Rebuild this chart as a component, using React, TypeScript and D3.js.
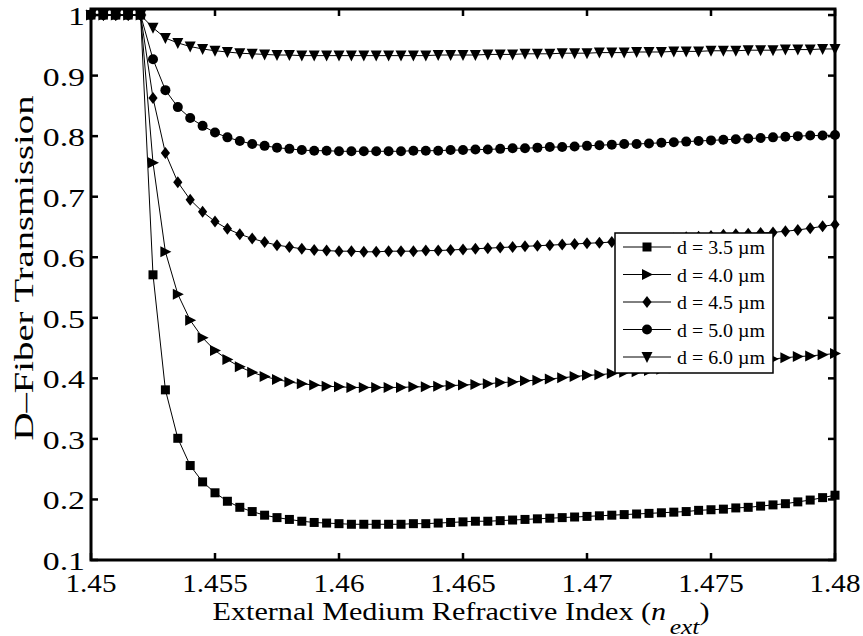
import React from "react";
import * as d3 from "d3";

const nExt = [
  1.45, 1.4505, 1.451, 1.4515, 1.452, 1.4525, 1.453, 1.4535, 1.454, 1.4545,
  1.455, 1.4555, 1.456, 1.4565, 1.457, 1.4575, 1.458, 1.4585, 1.459, 1.4595,
  1.46, 1.4605, 1.461, 1.4615, 1.462, 1.4625, 1.463, 1.4635, 1.464, 1.4645,
  1.465, 1.4655, 1.466, 1.4665, 1.467, 1.4675, 1.468, 1.4685, 1.469, 1.4695,
  1.47, 1.4705, 1.471, 1.4715, 1.472, 1.4725, 1.473, 1.4735, 1.474, 1.4745,
  1.475, 1.4755, 1.476, 1.4765, 1.477, 1.4775, 1.478, 1.4785, 1.479, 1.4795,
  1.48,
];

const d35 = [
  1, 1, 1, 1, 1, 0.571, 0.381, 0.301, 0.256, 0.229,
  0.211, 0.197, 0.187, 0.18, 0.174, 0.17, 0.167, 0.164, 0.162, 0.161,
  0.16, 0.159, 0.159, 0.159, 0.159, 0.159, 0.16, 0.16, 0.161, 0.162,
  0.163, 0.164, 0.164, 0.165, 0.166, 0.167, 0.168, 0.169, 0.17, 0.171,
  0.172, 0.173, 0.174, 0.175, 0.176, 0.177, 0.178, 0.179, 0.18, 0.182,
  0.183, 0.184, 0.186, 0.187, 0.189, 0.191, 0.193, 0.196, 0.199, 0.203,
  0.207,
];

const d40 = [
  1, 1, 1, 1, 1, 0.756, 0.609, 0.539, 0.496, 0.467,
  0.446, 0.431, 0.419, 0.41, 0.403, 0.398, 0.394, 0.391, 0.389, 0.387,
  0.386, 0.385, 0.385, 0.385, 0.385, 0.385, 0.386, 0.386, 0.387, 0.388,
  0.389, 0.39, 0.391, 0.393, 0.394, 0.396, 0.397, 0.399, 0.401, 0.403,
  0.405, 0.406, 0.408, 0.41, 0.411, 0.413, 0.415, 0.417, 0.419, 0.421,
  0.423, 0.424, 0.426, 0.428, 0.43, 0.432, 0.434, 0.436, 0.437, 0.439,
  0.441,
];

const d45 = [
  1, 1, 1, 1, 1, 0.863, 0.772, 0.724, 0.695, 0.675,
  0.659, 0.647, 0.638, 0.631, 0.625, 0.62, 0.617, 0.614, 0.612, 0.611,
  0.61, 0.61, 0.609, 0.609, 0.61, 0.61, 0.61, 0.611, 0.611, 0.612,
  0.613, 0.614, 0.615, 0.616, 0.617, 0.618, 0.619, 0.62, 0.621, 0.622,
  0.623, 0.624, 0.625, 0.627, 0.628, 0.629, 0.63, 0.631, 0.633, 0.634,
  0.635, 0.637, 0.638, 0.639, 0.64, 0.641, 0.643, 0.645, 0.648, 0.651,
  0.654,
];

const d50 = [
  1, 1, 1, 1, 1, 0.927, 0.876, 0.848, 0.83, 0.817,
  0.806, 0.798, 0.792, 0.787, 0.784, 0.781, 0.779, 0.777, 0.776, 0.776,
  0.775, 0.775, 0.775, 0.775, 0.775, 0.775, 0.776, 0.776, 0.776, 0.777,
  0.777, 0.778, 0.778, 0.779, 0.78, 0.78, 0.781, 0.782, 0.782, 0.783,
  0.784, 0.785, 0.786, 0.787, 0.787, 0.788, 0.789, 0.79, 0.791, 0.792,
  0.793, 0.794, 0.795, 0.796, 0.797, 0.798, 0.799, 0.8, 0.801, 0.801,
  0.802,
];

const d60 = [
  1, 1, 1, 1, 1, 0.979, 0.962, 0.954, 0.948, 0.944,
  0.941, 0.939, 0.937, 0.936, 0.935, 0.934, 0.934, 0.933, 0.933, 0.933,
  0.933, 0.933, 0.933, 0.933, 0.933, 0.933, 0.933, 0.933, 0.934, 0.934,
  0.934, 0.934, 0.935, 0.935, 0.935, 0.936, 0.936, 0.936, 0.937, 0.937,
  0.937, 0.938, 0.938, 0.938, 0.939, 0.939, 0.939, 0.94, 0.94, 0.94,
  0.941, 0.941, 0.941, 0.942, 0.942, 0.942, 0.943, 0.943, 0.943, 0.944,
  0.944,
];

const seriesNames = ["d = 3.5 µm", "d = 4.0 µm", "d = 4.5 µm", "d = 5.0 µm", "d = 6.0 µm"];
const seriesMarkers = ["square", "triangleRight", "diamond", "circle", "triangleDown"];
const seriesValues = [d35, d40, d45, d50, d60];

const xTicks = [1.45, 1.455, 1.46, 1.465, 1.47, 1.475, 1.48];
const xTickLabels = ["1.45", "1.455", "1.46", "1.465", "1.47", "1.475", "1.48"];
const yTicks = [0.1, 0.2, 0.3, 0.4, 0.5, 0.6, 0.7, 0.8, 0.9, 1.0];
const yTickLabels = ["0.1", "0.2", "0.3", "0.4", "0.5", "0.6", "0.7", "0.8", "0.9", "1"];

const W = 863;
const H = 636;
const L = 91;
const R = 835;
const T = 9;
const B = 560;
const FONT = "'Liberation Serif', 'Times New Roman', serif";

function markerPath(kind: string): string {
  switch (kind) {
    case "square":
      return "M-4.5,-4.5H4.5V4.5H-4.5Z";
    case "triangleRight":
      return "M-5,-5.5L6,0L-5,5.5Z";
    case "diamond":
      return "M0,-6L4.6,0L0,6L-4.6,0Z";
    case "circle":
      return "M-5,0A5,5,0,1,0,5,0A5,5,0,1,0,-5,0Z";
    case "triangleDown":
      return "M-5.5,-5L5.5,-5L0,6Z";
    default:
      return "";
  }
}

function SText(props: {
  x: number;
  y: number;
  size: number;
  sx: number;
  anchor?: string;
  children: React.ReactNode;
}) {
  return (
    <g transform={`translate(${props.x},${props.y}) scale(${props.sx},1)`}>
      <text x={0} y={0} fontSize={props.size} textAnchor={props.anchor || "start"}>
        {props.children}
      </text>
    </g>
  );
}

export default function App() {
  const x = d3.scaleLinear().domain([1.45, 1.48]).range([L, R]);
  const y = d3.scaleLinear().domain([0.1, 1.01]).range([B, T]);
  const line = d3
    .line<number>()
    .x((_, i) => x(nExt[i]))
    .y((v) => y(v));

  const tickLen = 7;
  const legX = 615;
  const legY = 233;
  const legW = 158;
  const legH = 140;
  const legRow = 27.5;

  return (
    <svg
      width={W}
      height={H}
      style={{ position: "absolute", left: 0, top: 0, background: "#fff" }}
      fontFamily={FONT}
    >
      <rect x={0} y={0} width={W} height={H} fill="#fff" />
      {seriesValues.map((vals, si) => (
        <g key={si}>
          <path d={line(vals) || ""} fill="none" stroke="#000" strokeWidth={1} />
          {vals.map((v, i) => (
            <path
              key={i}
              d={markerPath(seriesMarkers[si])}
              transform={`translate(${x(nExt[i])},${y(v)})`}
              fill="#000"
            />
          ))}
        </g>
      ))}
      <rect x={L} y={T} width={R - L} height={B - T} fill="none" stroke="#000" strokeWidth={3} />
      {xTicks.map((t, i) => (
        <g key={"xt" + i}>
          <line x1={x(t)} x2={x(t)} y1={B} y2={B - tickLen} stroke="#000" strokeWidth={2.5} />
          <line x1={x(t)} x2={x(t)} y1={T} y2={T + tickLen} stroke="#000" strokeWidth={2.5} />
          <SText x={x(t)} y={592} size={26} sx={1.12} anchor="middle">
            {xTickLabels[i]}
          </SText>
        </g>
      ))}
      {yTicks.map((t, i) => (
        <g key={"yt" + i}>
          <line x1={L} x2={L + tickLen} y1={y(t)} y2={y(t)} stroke="#000" strokeWidth={2.5} />
          <line x1={R} x2={R - tickLen} y1={y(t)} y2={y(t)} stroke="#000" strokeWidth={2.5} />
          <SText x={85} y={y(t) + 10} size={26} sx={1.3} anchor="end">
            {yTickLabels[i]}
          </SText>
        </g>
      ))}
      <SText x={461} y={620} size={26} sx={1.16} anchor="middle">
        External Medium Refractive Index (
        <tspan fontStyle="italic">n</tspan>
        <tspan fontStyle="italic" fontSize={22} dx={3} dy={14}>
          ext
        </tspan>
        <tspan dy={-14}>)</tspan>
      </SText>
      <text
        transform={`translate(33,268) rotate(-90)`}
        textAnchor="middle"
        fontSize={28}
        textLength={345}
        lengthAdjust="spacingAndGlyphs"
      >
        D–Fiber Transmission
      </text>
      <rect x={legX} y={legY} width={legW} height={legH} fill="#fff" stroke="#000" strokeWidth={1.5} />
      {seriesNames.map((name, i) => {
        const cy = legY + 14 + i * legRow;
        return (
          <g key={"lg" + i}>
            <line x1={623} x2={671} y1={cy} y2={cy} stroke="#000" strokeWidth={1} />
            <path d={markerPath(seriesMarkers[i])} transform={`translate(647,${cy})`} fill="#000" />
            <text
              x={677}
              y={cy + 7}
              fontSize={19}
              textLength={88}
              lengthAdjust="spacingAndGlyphs"
            >
              {name}
            </text>
          </g>
        );
      })}
    </svg>
  );
}
